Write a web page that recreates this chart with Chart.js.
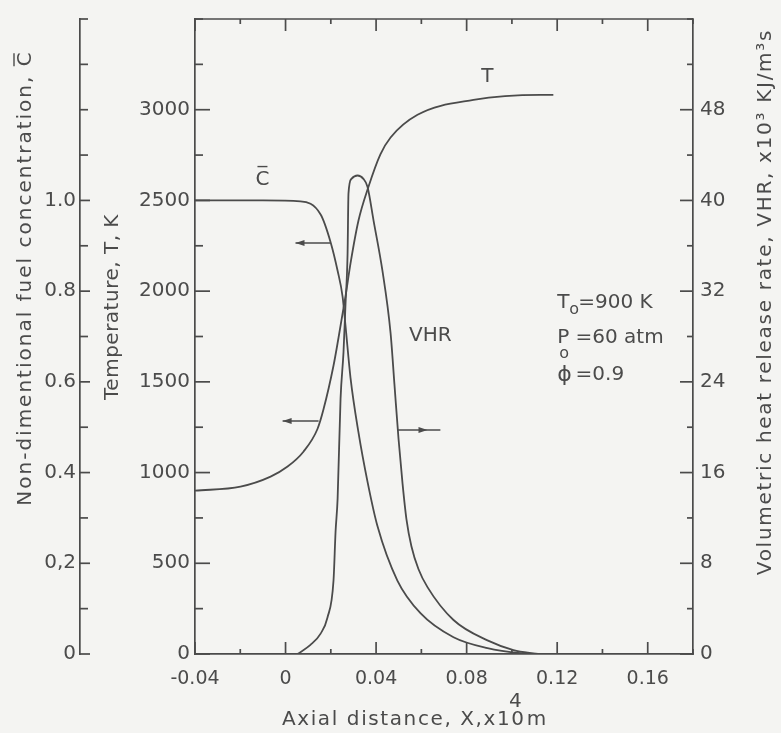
<!DOCTYPE html>
<html>
<head>
<meta charset="utf-8">
<script src="https://cdn.jsdelivr.net/npm/chart.js@4.4.1/dist/chart.umd.min.js"></script>
<style>
  html, body { margin: 0; padding: 0; background: #f4f4f2; }
  #wrap { width: 781px; height: 733px; position: relative; }
</style>
</head>
<body>
<div id="wrap"><canvas id="c"></canvas></div>
<script>
// axial distance (x10^4 m) and values
const tempX = [-0.04, -0.0199, -0.0066, 0.0009, 0.0079, 0.0141, 0.0168, 0.0212, 0.0234, 0.0265, 0.0287, 0.0322, 0.0366, 0.0419, 0.0464, 0.0583, 0.083, 0.1126, 0.1183];
const tempK = [900, 923, 978, 1033, 1115, 1240, 1350, 1590, 1743, 1972, 2153, 2388, 2574, 2754, 2847, 2972, 3054, 3082, 3082];

const concX = [-0.04, -0.01, 0.0066, 0.0155, 0.0199, 0.023, 0.0252, 0.0265, 0.0287, 0.0322, 0.0362, 0.0406, 0.0494, 0.0596, 0.0742, 0.0892, 0.1038, 0.112];
const concC = [1.0, 1.0, 0.998, 0.969, 0.908, 0.845, 0.788, 0.723, 0.609, 0.489, 0.38, 0.282, 0.162, 0.09, 0.037, 0.013, 0.002, 0];

const vhrX = [0.0053, 0.011, 0.0155, 0.0185, 0.0212, 0.0221, 0.023, 0.0243, 0.0256, 0.0265, 0.0274, 0.0278, 0.0291, 0.0318, 0.0344, 0.0362, 0.0389, 0.0428, 0.0464, 0.0481, 0.0499, 0.0517, 0.0534, 0.0556, 0.0587, 0.0627, 0.0742, 0.0892, 0.1007, 0.1113];
const vhrQ = [0, 0.8, 1.8, 3.2, 6.5, 10.8, 13.7, 22.5, 26.6, 30.9, 35.3, 40.6, 41.9, 42.2, 41.9, 41.2, 38.2, 33.8, 28.3, 23.8, 19.0, 15.0, 11.9, 9.5, 7.5, 5.9, 3.0, 1.2, 0.35, 0];

// axis ranges / tick steps
const xRange = [-0.04, 0.18], xStep = 0.02;
const tRange = [0, 3500], tStep = 250;
const cRange = [0, 1.4], cStep = 0.1;
const vRange = [0, 56], vStep = 4;

const INK = '#4b4b4b';
const FONT = "'DejaVu Sans', sans-serif";
Chart.defaults.font.family = FONT;
Chart.defaults.color = INK;

const pts = (xs, ys) => xs.map((x, i) => ({ x: x, y: ys[i] }));

function fixWidth(w) { return (s) => { s.width = w; }; }

const decor = {
  id: 'decor',
  afterDraw(chart) {
    const { ctx, chartArea: a, scales } = chart;
    const sx = scales.x, sT = scales.yT, sC = scales.yC, sV = scales.yV;
    const line = (x1, y1, x2, y2) => { ctx.beginPath(); ctx.moveTo(x1, y1); ctx.lineTo(x2, y2); ctx.stroke(); };
    ctx.save();
    ctx.strokeStyle = INK;
    ctx.fillStyle = INK;
    ctx.lineWidth = 1.7;

    // frame top
    line(a.left, a.top, a.right, a.top);

    // inward tick marks
    sx.ticks.forEach(t => {
      const p = sx.getPixelForValue(t.value), maj = t.label !== '';
      line(p, a.bottom, p, a.bottom - (maj ? 12 : 5));
      line(p, a.top, p, a.top + (maj ? 12 : 5));
    });
    sT.ticks.forEach(t => {
      const p = sT.getPixelForValue(t.value);
      line(a.left, p, a.left + (t.label !== '' ? 15 : 8), p);
    });
    sC.ticks.forEach(t => {
      const p = sC.getPixelForValue(t.value);
      line(sC.right, p, sC.right + (t.label !== '' ? 10 : 8), p);
    });
    sV.ticks.forEach(t => {
      const p = sV.getPixelForValue(t.value);
      line(a.right, p, a.right - (t.label !== '' ? 13 : 6), p);
    });

    // axis titles
    ctx.font = '20px ' + FONT;
    ctx.textBaseline = 'middle';
    const vtext = (txt, x, y, sp, bar) => {
      ctx.save();
      ctx.letterSpacing = sp + 'px';
      ctx.translate(x, y);
      ctx.rotate(-Math.PI / 2);
      const w = ctx.measureText(txt).width;
      ctx.textAlign = 'left';
      ctx.fillText(txt, -w / 2, 0);
      if (bar) {
        const wc = ctx.measureText('C').width;
        ctx.lineWidth = 1.4;
        line(w / 2 - wc, -12, w / 2 - sp - 1, -12);
      }
      ctx.restore();
    };
    vtext('Non-dimentional fuel concentration, C', 26, 278, 2, true);
    vtext('Temperature, T, K', 113, 307, 0.5);
    vtext('Volumetric heat release rate, VHR, x10³ KJ/m³s', 766, 302, 1.7);

    // x title with the exponent above
    ctx.textAlign = 'left';
    ctx.textBaseline = 'alphabetic';
    ctx.letterSpacing = '1.6px';
    const xt = 'Axial distance, X,x10';
    const x0 = 282;
    ctx.fillText(xt, x0, 725);
    const wx = ctx.measureText(xt).width;
    ctx.fillText('m', x0 + wx + 1, 725);
    const w0 = ctx.measureText('0').width;
    ctx.letterSpacing = '0px';
    ctx.textAlign = 'center';
    ctx.fillText('4', x0 + wx - w0 / 2 - 3, 707);

    // curve labels
    ctx.textAlign = 'center';
    ctx.textBaseline = 'middle';
    ctx.fillText('T', sx.getPixelForValue(0.0892), sT.getPixelForValue(3180));
    const cxp = sx.getPixelForValue(-0.0102), cyp = sC.getPixelForValue(1.046);
    ctx.fillText('C', cxp, cyp);
    ctx.lineWidth = 1.4;
    line(cxp - 5, cyp - 13, cxp + 5, cyp - 13);
    ctx.fillText('VHR', sx.getPixelForValue(0.064), sV.getPixelForValue(28.1));

    // conditions
    ctx.textAlign = 'left';
    const px = sx.getPixelForValue(0.12), py = sT.getPixelForValue(1934);
    ctx.fillText('T', px, py);
    ctx.font = '16px ' + FONT;
    ctx.fillText('o', px + 12, py + 7);
    ctx.font = '20px ' + FONT;
    ctx.fillText('=900 K', px + 21, py);
    ctx.fillText('P', px, py + 35);
    ctx.font = '16px ' + FONT;
    ctx.fillText('o', px + 2, py + 51);
    ctx.font = '20px ' + FONT;
    ctx.fillText(' =60 atm', px + 12, py + 35);
    ctx.font = '22px ' + FONT;
    ctx.fillText('ϕ', px, py + 72);
    ctx.font = '20px ' + FONT;
    ctx.fillText(' =0.9', px + 12, py + 72);

    // arrows
    ctx.lineWidth = 1.5;
    const arrow = (xa, ya, xb, yb, xh, dir) => {
      line(xa, ya, xb, yb);
      ctx.beginPath();
      ctx.moveTo(xh, ya);
      ctx.lineTo(xh - dir * 9, ya - 3);
      ctx.lineTo(xh - dir * 9, ya + 3);
      ctx.closePath();
      ctx.fill();
    };
    let yA = sC.getPixelForValue(0.906);
    arrow(sx.getPixelForValue(0.0199), yA, sx.getPixelForValue(0.0044), yA, sx.getPixelForValue(0.0044), -1);
    yA = sT.getPixelForValue(1284);
    arrow(sx.getPixelForValue(0.0146), yA, sx.getPixelForValue(-0.0013), yA, sx.getPixelForValue(-0.0013), -1);
    yA = sV.getPixelForValue(19.75);
    arrow(sx.getPixelForValue(0.0494), yA, sx.getPixelForValue(0.0684), yA, sx.getPixelForValue(0.0627), 1);

    ctx.restore();
  }
};

const lineStyle = {
  borderColor: INK,
  borderWidth: 1.8,
  pointRadius: 0,
  fill: false,
  cubicInterpolationMode: 'monotone'
};

new Chart(document.getElementById('c'), {
  type: 'line',
  data: {
    datasets: [
      Object.assign({ label: 'T', data: pts(tempX, tempK), yAxisID: 'yT' }, lineStyle),
      Object.assign({ label: 'C', data: pts(concX, concC), yAxisID: 'yC' }, lineStyle),
      Object.assign({ label: 'VHR', data: pts(vhrX, vhrQ), yAxisID: 'yV' }, lineStyle)
    ]
  },
  options: {
    responsive: true,
    maintainAspectRatio: false,
    animation: false,
    layout: { padding: { top: 12, left: 0, right: 0, bottom: 0 } },
    plugins: { legend: { display: false }, tooltip: { enabled: false } },
    scales: {
      x: {
        type: 'linear',
        min: xRange[0], max: xRange[1],
        afterFit: (s) => { s.height = 79; },
        grid: { display: false, drawTicks: false },
        border: { display: true, color: INK, width: 1.7 },
        ticks: {
          stepSize: xStep, autoSkip: false, maxRotation: 0, padding: 14,
          font: { size: 19 },
          callback: (v) => {
            const n = Math.round(v * 100);
            if (n % 4 !== 0 || n > 16) return '';
            return n === 0 ? '0' : (n / 100).toFixed(2);
          }
        }
      },
      yT: {
        type: 'linear', position: 'left', weight: 0,
        min: tRange[0], max: tRange[1],
        afterFit: fixWidth(115),
        grid: { display: false, drawTicks: false },
        border: { display: true, color: INK, width: 1.7 },
        ticks: {
          stepSize: tStep, autoSkip: false, padding: 5,
          font: { size: 20 },
          callback: (v) => (v % 500 === 0 && v <= 3000) ? String(v) : ''
        }
      },
      yC: {
        type: 'linear', position: 'left', weight: 1,
        min: cRange[0], max: cRange[1],
        afterFit: fixWidth(80),
        grid: { display: false, drawTicks: false },
        border: { display: true, color: INK, width: 1.7 },
        ticks: {
          stepSize: cStep, autoSkip: false, padding: 4,
          font: { size: 20 },
          callback: (v) => {
            const n = Math.round(v * 10);
            if (n % 2 !== 0 || n > 10) return '';
            if (n === 0) return '0';
            if (n === 2) return '0,2';
            return (n / 10).toFixed(1);
          }
        }
      },
      yV: {
        type: 'linear', position: 'right',
        min: vRange[0], max: vRange[1],
        afterFit: fixWidth(88),
        grid: { display: false, drawTicks: false },
        border: { display: true, color: INK, width: 1.7 },
        ticks: {
          stepSize: vStep, autoSkip: false, padding: 7,
          font: { size: 20 },
          callback: (v) => (v % 8 === 0 && v <= 48) ? String(v) : ''
        }
      }
    }
  },
  plugins: [decor]
});
</script>
</body>
</html>
